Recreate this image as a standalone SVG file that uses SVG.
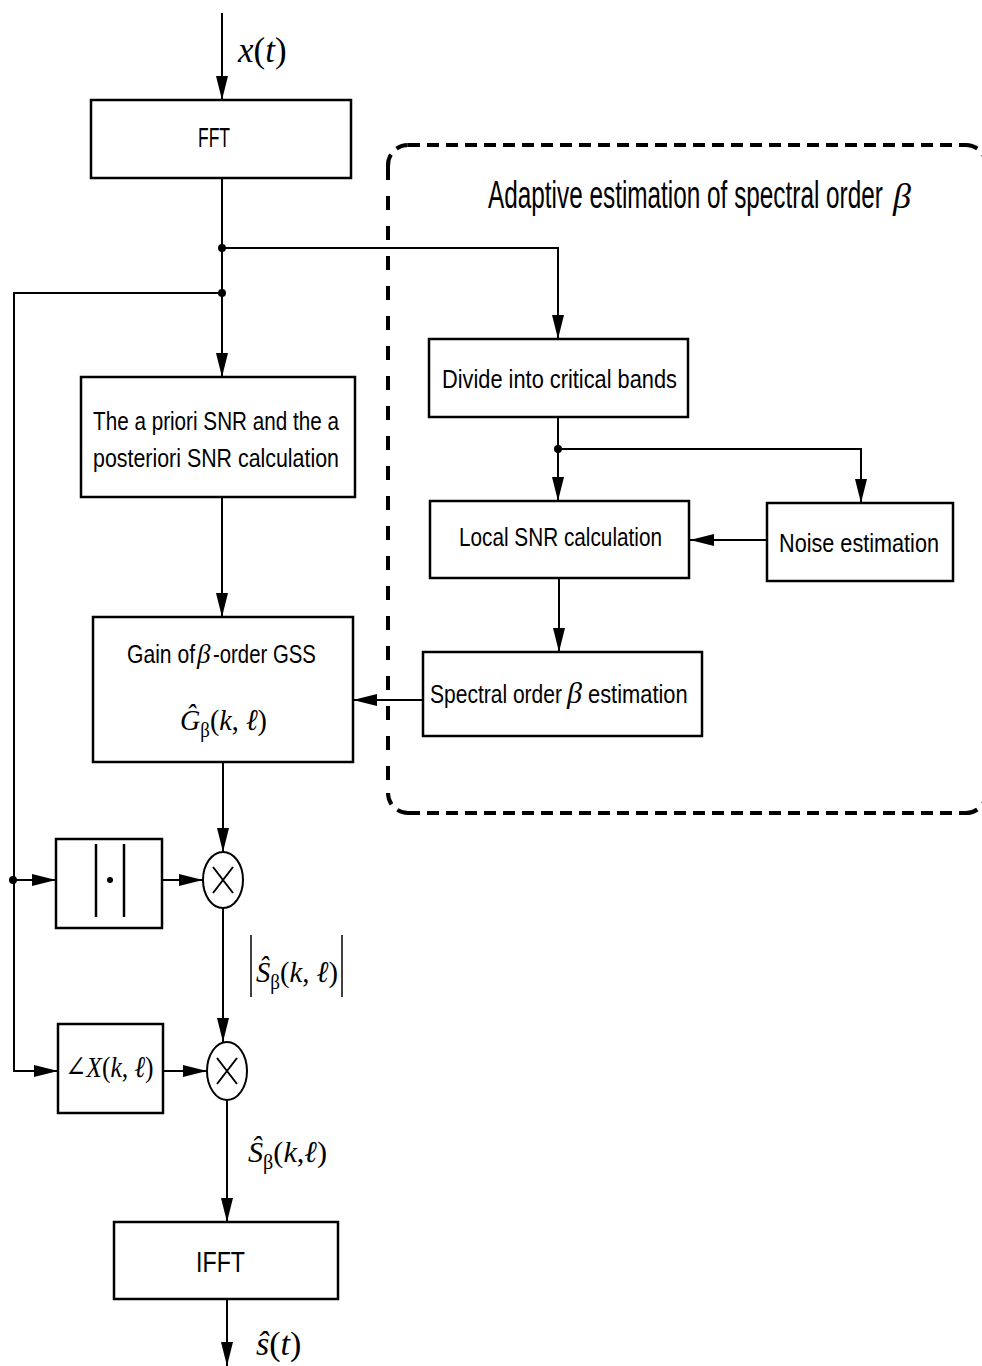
<svg xmlns="http://www.w3.org/2000/svg" width="982" height="1366" viewBox="0 0 982 1366">
<defs>
<marker id="arr" markerUnits="userSpaceOnUse" markerWidth="26" markerHeight="14" refX="24" refY="6" orient="auto">
<path d="M0,0 L24,6 L0,12 z" fill="#000"/>
</marker>
<style>
.box{fill:#fff;stroke:#000;stroke-width:2.5}
.ln{fill:none;stroke:#000;stroke-width:2}
.con{fill:none;stroke:#000;stroke-width:2;marker-end:url(#arr)}
.t{font-family:"Liberation Sans Narrow","Liberation Sans",sans-serif;font-size:26px;fill:#000}
.m{font-family:"Liberation Serif","DejaVu Serif",serif;font-size:30px;fill:#000}
.mi{font-style:italic}
.gk{font-family:"Liberation Serif","DejaVu Serif",serif;font-style:italic;fill:#000}
.sb{font-size:20px;font-style:normal}
.dh{fill:none;stroke:#000;stroke-width:4;stroke-dasharray:12 7}
.dv{fill:none;stroke:#000;stroke-width:4;stroke-dasharray:14 16}
.dc{fill:none;stroke:#000;stroke-width:4;stroke-dasharray:12 8}
.dot{fill:#000}
</style>
</defs>
<rect width="982" height="1366" fill="#fff"/>

<g id="adaptive-region">
<path class="dh" d="M408,145 H966"/>
<path class="dh" d="M408,813 H966"/>
<path class="dv" d="M388,166 V793"/>
<path class="dv" d="M986,166 V793"/>
<path class="dc" d="M388,166 A20,20 0 0 1 408,145"/>
<path class="dc" d="M966,145 A20,20 0 0 1 986,166"/>
<path class="dc" d="M388,793 A20,20 0 0 0 408,813"/>
<path class="dc" d="M966,813 A20,20 0 0 0 986,793"/>
<text class="t" transform="translate(488,208) scale(0.64,1)" x="0" y="0" style="font-size:38px" textLength="617" lengthAdjust="spacingAndGlyphs">Adaptive estimation of spectral order</text>
<text class="gk" x="893" y="208" style="font-size:36px">β</text>
</g>

<g id="connectors">
<path class="con" d="M222,13 V100"/>
<path class="con" d="M222,178 V377"/>
<path class="con" d="M222,248 H558 V339"/>
<path class="con" d="M222,293 H14 V1071 H58"/>
<path class="con" d="M14,880 H56"/>
<path class="con" d="M222,497 V617"/>
<path class="con" d="M223,762 V852"/>
<path class="con" d="M162,880 H203"/>
<path class="con" d="M223,908 V1042"/>
<path class="con" d="M163,1071 H207"/>
<path class="con" d="M227,1100 V1222"/>
<path class="con" d="M227,1299 V1366"/>
<path class="con" d="M558,417 V501"/>
<path class="con" d="M558,449 H861 V503"/>
<path class="con" d="M767,540 H690"/>
<path class="con" d="M559,578 V652"/>
<path class="con" d="M422,700 H353"/>
<circle class="dot" cx="222" cy="248" r="4"/>
<circle class="dot" cx="222" cy="293" r="4"/>
<circle class="dot" cx="13" cy="880" r="4"/>
<circle class="dot" cx="558" cy="449" r="4"/>
</g>

<g id="label-xt">
<text class="m" x="238" y="62" style="font-size:35px"><tspan class="mi">x</tspan>(<tspan class="mi">t</tspan>)</text>
</g>

<g id="fft">
<rect class="box" x="91" y="100" width="260" height="78"/>
<text class="t" x="198" y="147" style="font-size:28px" textLength="32" lengthAdjust="spacingAndGlyphs">FFT</text>
</g>

<g id="snr-calc">
<rect class="box" x="81" y="377" width="274" height="120"/>
<text class="t" x="93" y="430" textLength="246" lengthAdjust="spacingAndGlyphs">The a priori SNR and the a</text>
<text class="t" x="93" y="467" textLength="246" lengthAdjust="spacingAndGlyphs">posteriori SNR calculation</text>
</g>

<g id="gain">
<rect class="box" x="93" y="617" width="260" height="145"/>
<text class="t" transform="translate(127,663) scale(0.81,1)" x="0" y="0" textLength="84" lengthAdjust="spacingAndGlyphs">Gain of</text>
<text class="gk" x="197" y="663" style="font-size:27px">β</text>
<text class="t" transform="translate(213,663) scale(0.785,1)" x="0" y="0" textLength="131" lengthAdjust="spacingAndGlyphs">-order GSS</text>
<text class="m" x="180" y="730" textLength="87" lengthAdjust="spacingAndGlyphs"><tspan class="mi">Ĝ</tspan><tspan class="sb" dy="7">β</tspan><tspan dy="-7">(</tspan><tspan class="mi">k</tspan>, <tspan class="mi">ℓ</tspan>)</text>
</g>

<g id="divide">
<rect class="box" x="429" y="339" width="259" height="78"/>
<text class="t" x="442" y="388" textLength="235" lengthAdjust="spacingAndGlyphs">Divide into critical bands</text>
</g>

<g id="local-snr">
<rect class="box" x="430" y="501" width="259" height="77"/>
<text class="t" x="459" y="546" textLength="203" lengthAdjust="spacingAndGlyphs">Local SNR calculation</text>
</g>

<g id="noise">
<rect class="box" x="767" y="503" width="186" height="78"/>
<text class="t" x="779" y="552" textLength="160" lengthAdjust="spacingAndGlyphs">Noise estimation</text>
</g>

<g id="spectral-order">
<rect class="box" x="423" y="652" width="279" height="84"/>
<text class="t" transform="translate(430,703) scale(0.8,1)" x="0" y="0" textLength="165" lengthAdjust="spacingAndGlyphs">Spectral order</text>
<text class="gk" x="567" y="703" style="font-size:30px">β</text>
<text class="t" transform="translate(588,703) scale(0.845,1)" x="0" y="0" textLength="118" lengthAdjust="spacingAndGlyphs">estimation</text>
</g>

<g id="abs">
<rect class="box" x="56" y="839" width="106" height="89"/>
<line x1="96" y1="844" x2="96" y2="917" stroke="#000" stroke-width="2.5"/>
<line x1="124" y1="844" x2="124" y2="917" stroke="#000" stroke-width="2.5"/>
<circle class="dot" cx="110" cy="880" r="3"/>
</g>

<g id="mult1">
<ellipse cx="223" cy="880" rx="20" ry="28" fill="#fff" stroke="#000" stroke-width="2"/>
<path class="ln" d="M213,867 L233,893 M233,867 L213,893"/>
</g>

<g id="label-abs-s">
<line x1="251" y1="935" x2="251" y2="997" stroke="#000" stroke-width="1.5"/>
<line x1="342" y1="935" x2="342" y2="997" stroke="#000" stroke-width="1.5"/>
<text class="m" x="256" y="982" textLength="82" lengthAdjust="spacingAndGlyphs"><tspan class="mi">Ŝ</tspan><tspan class="sb" dy="7">β</tspan><tspan dy="-7">(</tspan><tspan class="mi">k</tspan>, <tspan class="mi">ℓ</tspan>)</text>
</g>

<g id="phase">
<rect class="box" x="58" y="1024" width="105" height="89"/>
<text class="m" transform="translate(65,1077) scale(0.86,1)" x="0" y="0" textLength="103" lengthAdjust="spacingAndGlyphs">∠<tspan class="mi">X</tspan>(<tspan class="mi">k</tspan>, <tspan class="mi">ℓ</tspan>)</text>
</g>

<g id="mult2">
<ellipse cx="227" cy="1071" rx="20" ry="29" fill="#fff" stroke="#000" stroke-width="2"/>
<path class="ln" d="M217,1058 L237,1084 M237,1058 L217,1084"/>
</g>

<g id="label-s">
<text class="m" x="248" y="1162" textLength="79" lengthAdjust="spacingAndGlyphs"><tspan class="mi">Ŝ</tspan><tspan class="sb" dy="7">β</tspan><tspan dy="-7">(</tspan><tspan class="mi">k</tspan>,<tspan class="mi">ℓ</tspan>)</text>
</g>

<g id="ifft">
<rect class="box" x="114" y="1222" width="224" height="77"/>
<text class="t" x="196" y="1272" style="font-size:30px" textLength="49" lengthAdjust="spacingAndGlyphs">IFFT</text>
</g>

<g id="label-st">
<text class="m" x="256" y="1355" style="font-size:34px"><tspan class="mi">ŝ</tspan>(<tspan class="mi">t</tspan>)</text>
</g>
</svg>
